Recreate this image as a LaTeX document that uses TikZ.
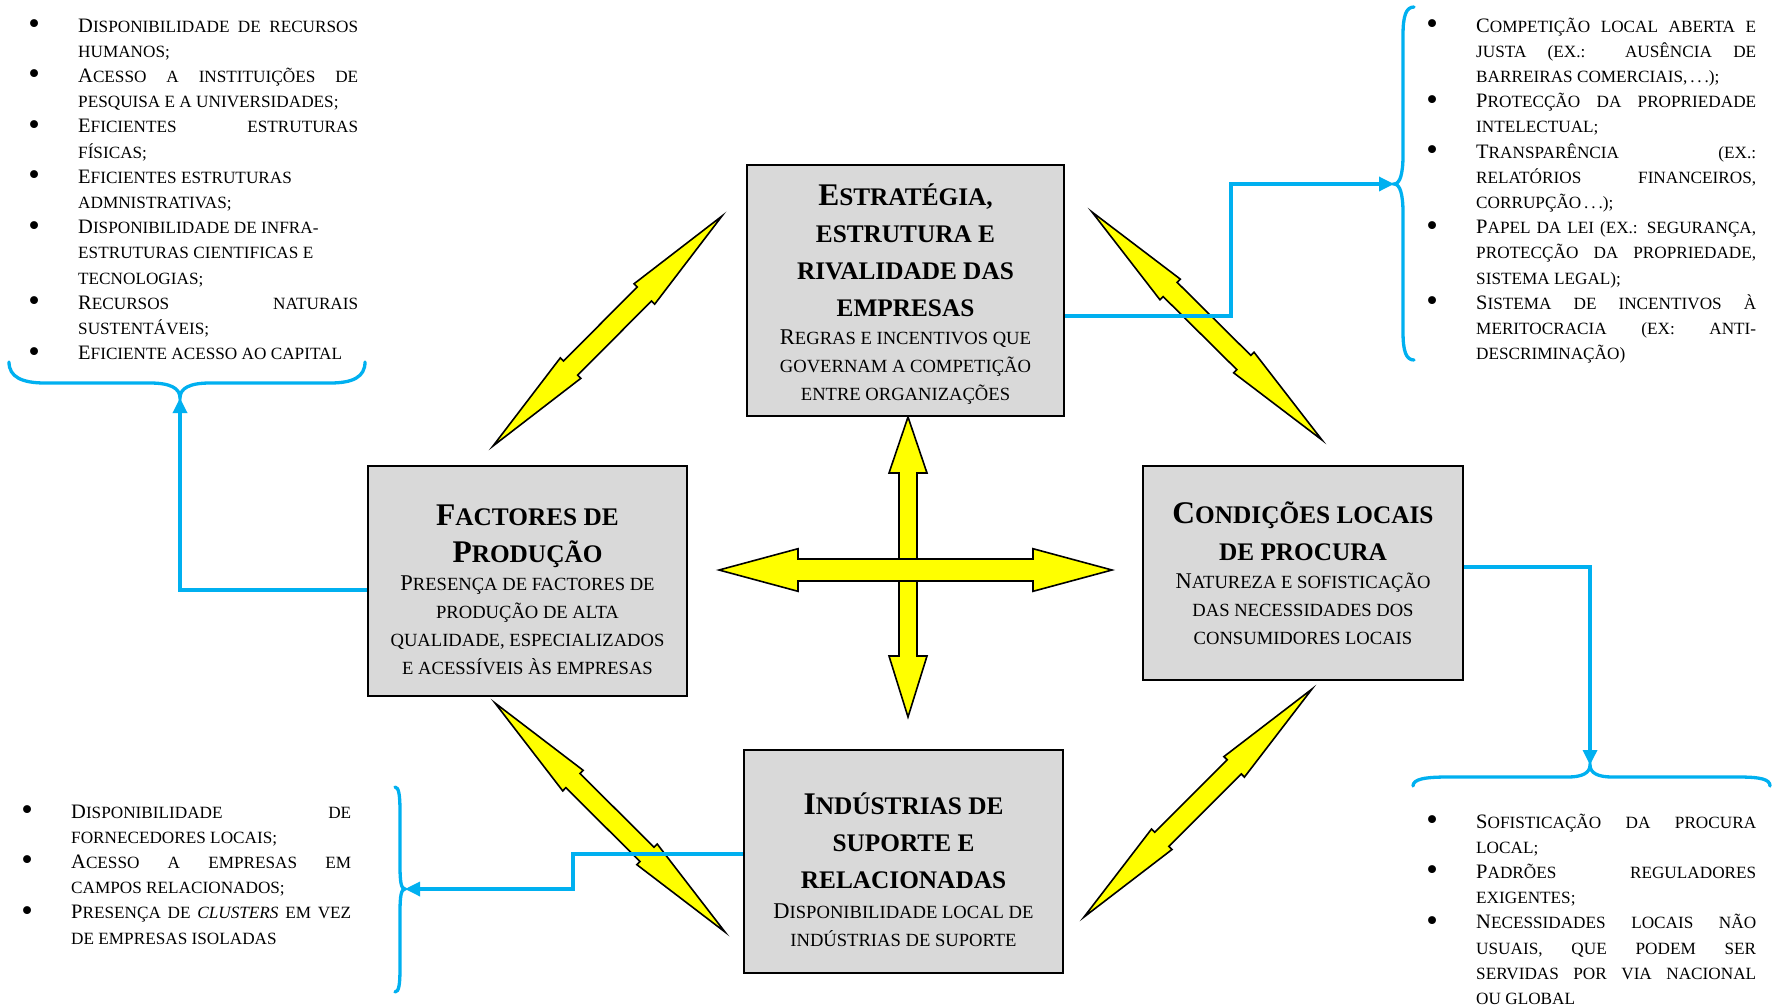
\documentclass[tikz,border=0pt]{standalone}
\usepackage{fontspec}
\setmainfont{Liberation Serif}
\usetikzlibrary{arrows.meta}
\definecolor{cblue}{HTML}{00B0F0}
\definecolor{boxgray}{HTML}{D9D9D9}
\definecolor{ayel}{HTML}{FFFF00}

\newcommand\Lb[1]{{\fontsize{20.5}{25.2}\selectfont #1}}
\newcommand\listf{\fontsize{17.2}{25.2}\selectfont}
\newcommand\Sb[1]{{\fontsize{22.5}{28}\selectfont #1}}
\newcommand\subf{\fontsize{18.6}{28}\selectfont}
\newcommand\Tb[1]{{\fontsize{31.5}{37}\selectfont #1}}
\newcommand\titlef{\fontsize{25.3}{37}\selectfont\bfseries}
\newcommand\bul{\raisebox{-2.5pt}{\fontsize{33}{25}\selectfont\textbullet}}
\newcommand\itm{\par\noindent\llap{\makebox[0pt]{\bul}\hspace{44pt}}}
\newcommand\listsetup{\listf\tolerance=10000\hyphenpenalty=10000\exhyphenpenalty=10000\hbadness=10000\hfuzz=5pt}

\newcommand\dblarrow[8]{%
 \pgfmathsetmacro\dang{atan2(#2-#4,#3-#1)}%
 \pgfmathsetmacro\dlen{veclen(#3-#1,#4-#2)}%
 \pgfmathsetmacro\dhb{\dlen-#8}%
 \begin{scope}[shift={(#1,#2)},rotate=\dang]
 \draw[yarrow] (0,0) -- (#7,#6) -- (#7,#5) -- (\dhb,#5) -- (\dhb,#6) -- (\dlen,0) -- (\dhb,-#6) -- (\dhb,-#5) -- (#7,-#5) -- (#7,-#6) -- cycle;
 \end{scope}}

\tikzset{
 yarrow/.style={fill=ayel, draw=black, line width=1.6pt, line join=miter},
 boxnode/.style={draw=black, fill=boxgray, line width=2.2pt, inner sep=0pt},
 txt/.style={inner sep=0pt, anchor=base},
 lst/.style={inner sep=0pt, anchor=base west},
 conn/.style={draw=cblue, line width=3.3pt, -{Triangle[length=15pt,width=14pt]}},
 bracestyle/.style={draw=cblue, line width=3.3pt, line cap=round},
}

\begin{document}
\begin{tikzpicture}[x=1pt,y=-1pt]
\fill[white] (0,0) rectangle (1776,1007);
\useasboundingbox (0,0) rectangle (1776,1007);

% yellow double arrows
\dblarrow{493}{446}{722}{216}{10}{14.5}{110}{110}
\dblarrow{1092}{212}{1322}{440}{10}{14.5}{110}{110}
\dblarrow{495}{703}{725}{932}{10}{14.5}{110}{110}
\dblarrow{1084}{917}{1312}{689}{10}{14.5}{110}{110}
\dblarrow{908}{417}{908}{717}{9}{19}{56}{61}
\dblarrow{719}{570}{1112}{570}{11}{21.3}{79}{79}

% boxes
\node[boxnode, minimum width=317pt, minimum height=251pt] (est) at (905.5,290.5) {};
\node[boxnode, minimum width=319pt, minimum height=230pt] (fac) at (527.5,581) {};
\node[boxnode, minimum width=320pt, minimum height=214pt] (con) at (1303,573) {};
\node[boxnode, minimum width=319pt, minimum height=223pt] (ind) at (903.5,861.5) {};

% box texts
\node[txt] (estT) at (905.5,205) {\parbox[t]{310pt}{\centering\titlef \Tb{E}STRATÉGIA,\\ESTRUTURA E\\RIVALIDADE DAS\\EMPRESAS}};
\node[txt] (estS) at (905.5,344) {\parbox[t]{310pt}{\centering\subf \Sb{R}EGRAS E INCENTIVOS QUE\\GOVERNAM A COMPETIÇÃO\\ENTRE ORGANIZAÇÕES}};

\node[txt] (facT) at (527.5,525.5) {\parbox[t]{310pt}{\centering\titlef \Tb{F}ACTORES DE\\\Tb{P}RODUÇÃO}};
\node[txt] (facS) at (527.5,590) {\parbox[t]{310pt}{\centering\subf \Sb{P}RESENÇA DE FACTORES DE\\PRODUÇÃO DE ALTA\\QUALIDADE, ESPECIALIZADOS\\E ACESSÍVEIS ÀS EMPRESAS}};

\node[txt] (conT) at (1303,523) {\parbox[t]{310pt}{\centering\titlef \Tb{C}ONDIÇÕES LOCAIS\\DE PROCURA}};
\node[txt] (conS) at (1303,588) {\parbox[t]{310pt}{\centering\subf \Sb{N}ATUREZA E SOFISTICAÇÃO\\DAS NECESSIDADES DOS\\CONSUMIDORES LOCAIS}};

\node[txt] (indT) at (903.5,814.5) {\parbox[t]{310pt}{\centering\titlef \Tb{I}NDÚSTRIAS DE\\SUPORTE E\\RELACIONADAS}};
\node[txt] (indS) at (903.5,918) {\parbox[t]{310pt}{\centering\subf \Sb{D}ISPONIBILIDADE LOCAL DE\\INDÚSTRIAS DE SUPORTE}};

% lists
\node[lst] (listTL) at (78,32) {\parbox[t]{280pt}{\listsetup
\itm \Lb{D}ISPONIBILIDADE DE RECURSOS\linebreak HUMANOS;
\itm \Lb{A}CESSO A INSTITUIÇÕES DE\linebreak PESQUISA E A UNIVERSIDADES;
\itm \Lb{E}FICIENTES ESTRUTURAS\linebreak FÍSICAS;
\itm \Lb{E}FICIENTES ESTRUTURAS\\ADMNISTRATIVAS;
\itm \Lb{D}ISPONIBILIDADE DE INFRA-\\ESTRUTURAS CIENTIFICAS E\\TECNOLOGIAS;
\itm \Lb{R}ECURSOS NATURAIS\linebreak SUSTENTÁVEIS;
\itm \Lb{E}FICIENTE ACESSO AO CAPITAL}};

\node[lst] (listTR) at (1476,32) {\parbox[t]{280pt}{\listsetup
\itm \Lb{C}OMPETIÇÃO LOCAL ABERTA E\linebreak JUSTA (EX.: AUSÊNCIA DE\linebreak BARREIRAS COMERCIAIS,\,.\,.\,.);
\itm \Lb{P}ROTECÇÃO DA PROPRIEDADE\linebreak INTELECTUAL;
\itm \Lb{T}RANSPARÊNCIA (EX.:\linebreak RELATÓRIOS FINANCEIROS,\linebreak CORRUPÇÃO\,.\,.\,.);
\itm \Lb{P}APEL DA LEI (EX.: SEGURANÇA,\linebreak PROTECÇÃO DA PROPRIEDADE,\linebreak SISTEMA LEGAL);
\itm \Lb{S}ISTEMA DE INCENTIVOS À\linebreak MERITOCRACIA (EX: ANTI-\linebreak DESCRIMINAÇÃO)}};

\node[lst] (listBL) at (71,818) {\parbox[t]{280pt}{\listsetup
\itm \Lb{D}ISPONIBILIDADE DE\linebreak FORNECEDORES LOCAIS;
\itm \Lb{A}CESSO A EMPRESAS EM\linebreak CAMPOS RELACIONADOS;
\itm \Lb{P}RESENÇA DE \textit{CLUSTERS} EM VEZ\linebreak DE EMPRESAS ISOLADAS}};

\node[lst] (listBR) at (1476,828) {\parbox[t]{280pt}{\listsetup
\itm \Lb{S}OFISTICAÇÃO DA PROCURA\linebreak LOCAL;
\itm \Lb{P}ADRÕES REGULADORES\linebreak EXIGENTES;
\itm \Lb{N}ECESSIDADES LOCAIS NÃO\linebreak USUAIS, QUE PODEM SER\linebreak SERVIDAS POR VIA NACIONAL\linebreak OU GLOBAL}};

% braces
\draw[bracestyle] (9,362) .. controls (9,377) and (22,383) .. (45,383) -- (150,383) .. controls (170,383) and (180,388) .. (180,398) .. controls (180,388) and (190,383) .. (210,383) -- (330,383) .. controls (353,383) and (365,377) .. (365,362);
\draw[bracestyle] (1414,7) .. controls (1406,7) and (1403,16) .. (1403,35) -- (1403,155) .. controls (1403,174) and (1400,184) .. (1394,184) .. controls (1400,184) and (1403,194) .. (1403,213) -- (1403,332) .. controls (1403,351) and (1406,360) .. (1414,360);
\draw[bracestyle] (395,787) .. controls (399,787) and (400,796) .. (400,812) -- (400,866) .. controls (400,881) and (401,889) .. (405,889) .. controls (401,889) and (400,897) .. (400,912) -- (400,968) .. controls (400,984) and (399,992) .. (395,992);
\draw[bracestyle] (1413,786) .. controls (1413,779) and (1425,777) .. (1448,777) -- (1568,777) .. controls (1582,777) and (1590,773) .. (1590,765) .. controls (1590,773) and (1598,777) .. (1612,777) -- (1738,777) .. controls (1760,777) and (1770,779) .. (1770,786);

% connectors
\coordinate (cTL) at (180,398);
\coordinate (cTR) at (1394,184);
\coordinate (cBL) at (405,889);
\coordinate (cBR) at (1590,765);
\draw[conn] ([yshift=-9pt]fac.west) -| (cTL);
\draw[conn] ([yshift=-25.5pt]est.east) -- ++(166,0) |- (cTR);
\draw[conn] ([yshift=6pt]con.east) -| (cBR);
\draw[conn] ([yshift=7.5pt]ind.west) -- ++(-170,0) |- (cBL);
\end{tikzpicture}
\end{document}
